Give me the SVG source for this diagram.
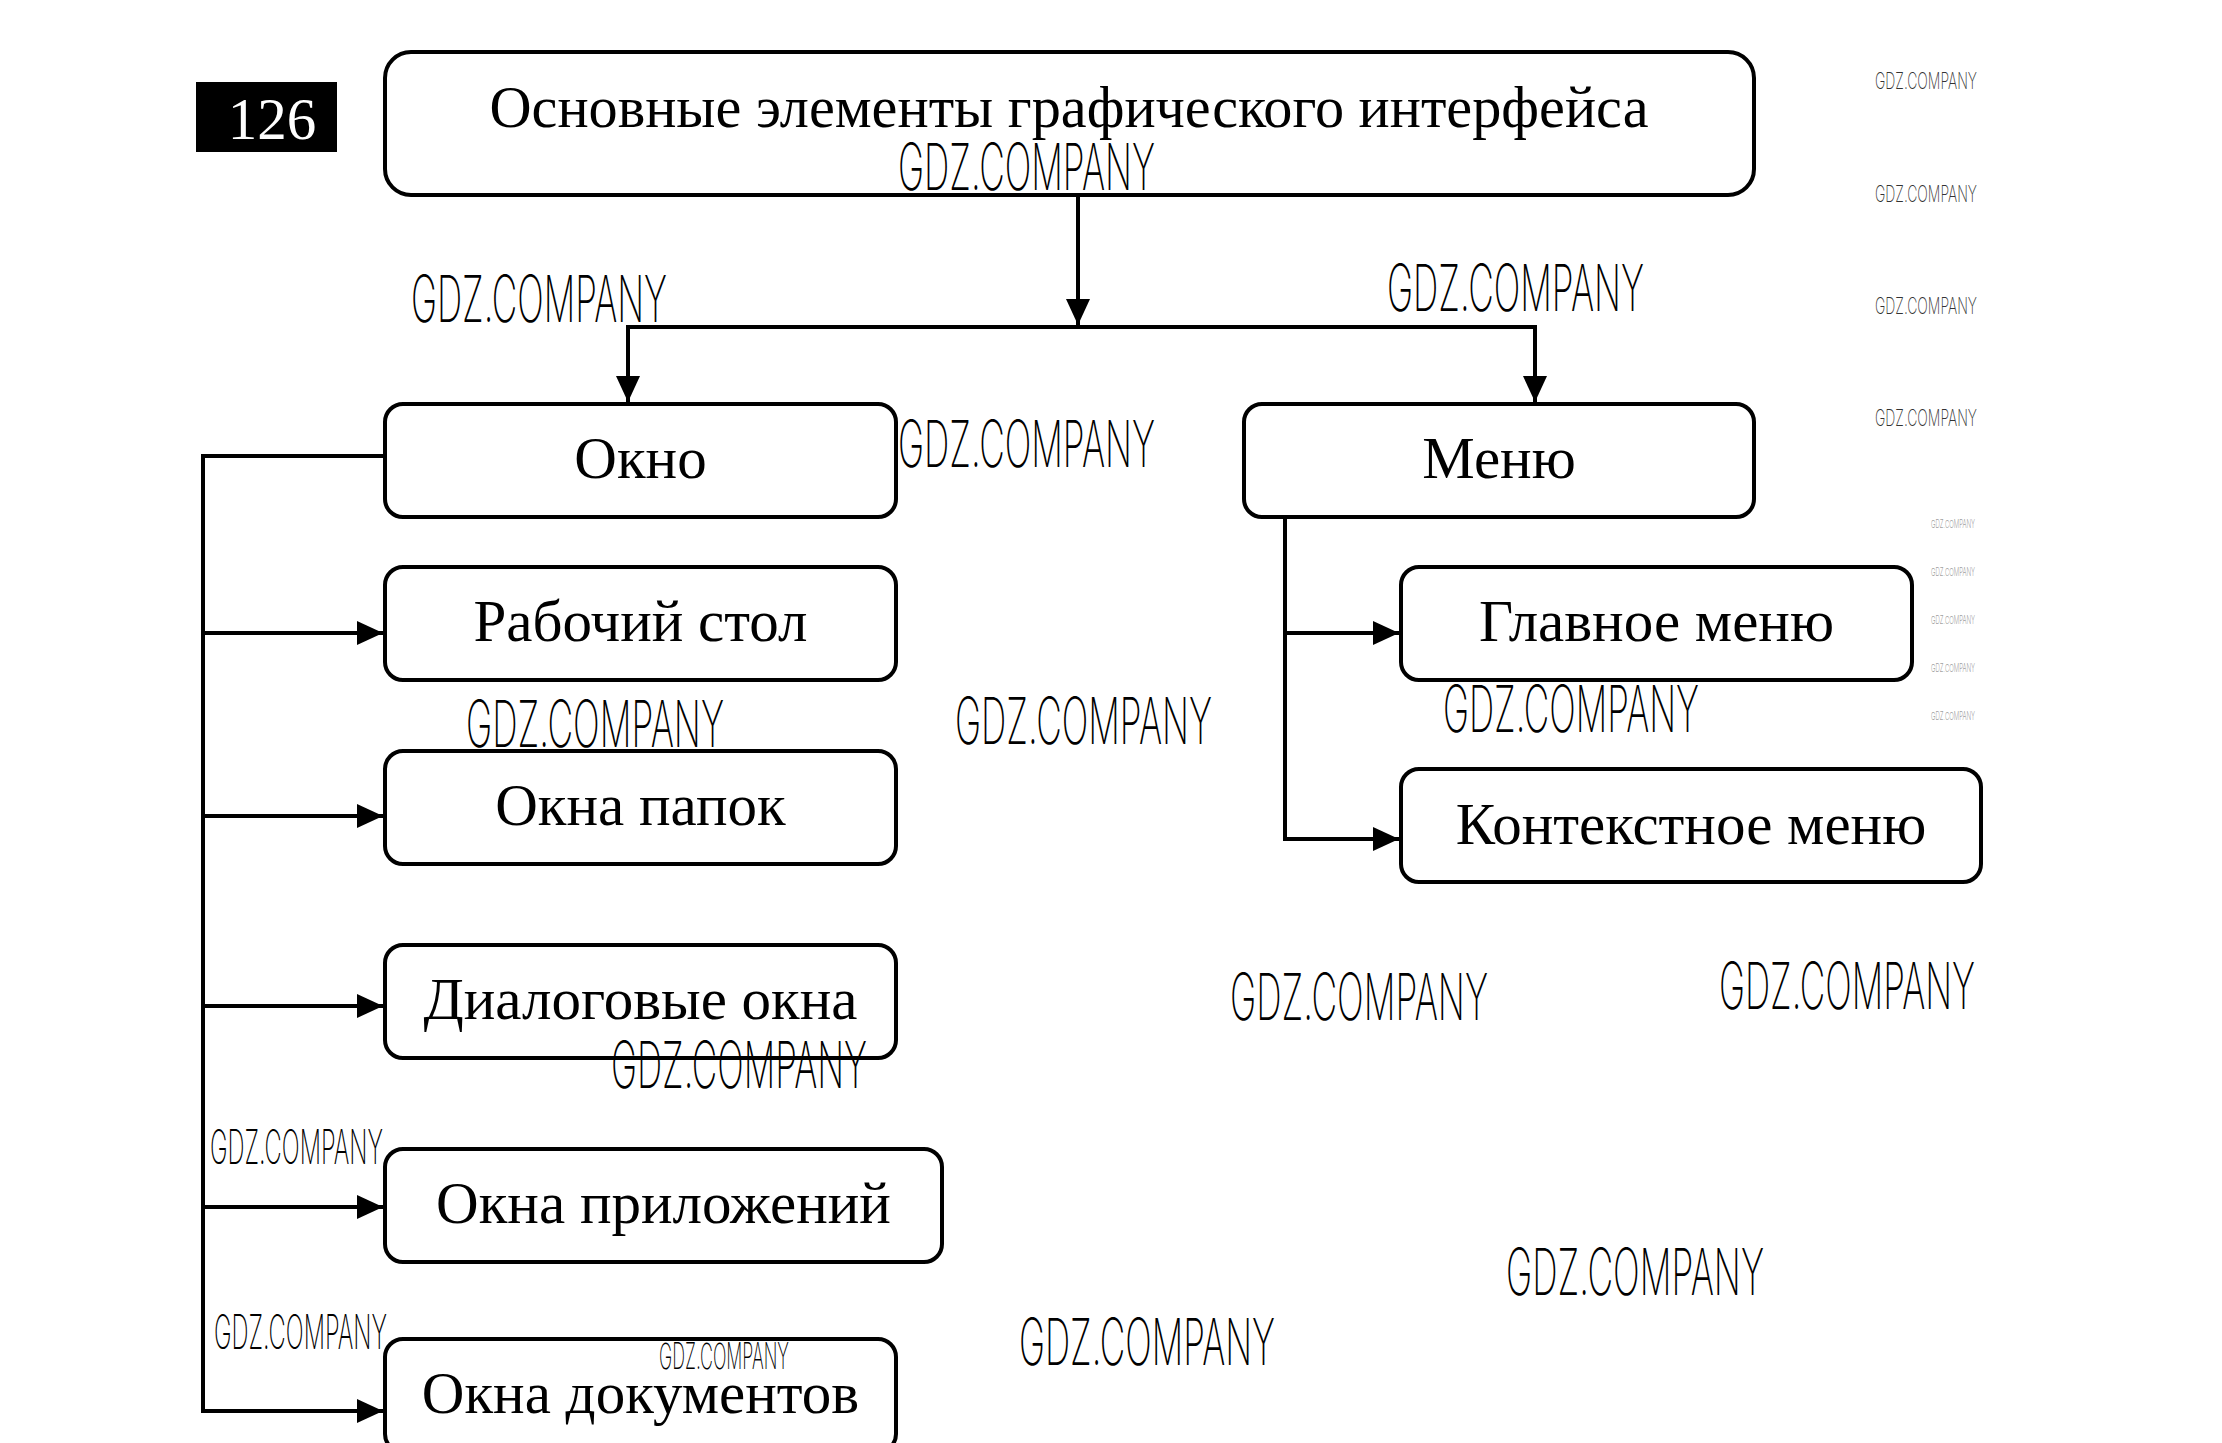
<svg xmlns="http://www.w3.org/2000/svg" width="2222" height="1443" viewBox="0 0 2222 1443">
<style>
.box{fill:#fff;stroke:#000;stroke-width:4}
.lbl{font-family:"Liberation Serif","Times New Roman",serif;font-size:59px;fill:#000;text-anchor:middle}
.con{fill:none;stroke:#000;stroke-width:4}
.wm{font-family:Inter,"Liberation Sans",sans-serif;font-weight:200;fill:#000}
.wl{font-size:65px}
.wmd{font-size:48px}
.ws{font-size:36px}
.wt{font-size:23px;fill:#333}
.wx{font-size:11px;fill:#777}
</style>
<defs>
<marker id="ah" markerUnits="userSpaceOnUse" markerWidth="28" markerHeight="26" refX="26" refY="12" orient="auto">
<path d="M0,0 L26,12 L0,24 Z" fill="#000"/>
</marker>
</defs>
<rect width="2222" height="1443" fill="#fff"/>

<g id="badge">
<rect x="196" y="82" width="141" height="70" fill="#000"/>
<text x="272" y="139" font-family="Liberation Serif,serif" font-size="59" fill="#fff" text-anchor="middle">126</text>
</g>

<g id="connectors">
<path class="con" d="M1078,195 V325" marker-end="url(#ah)"/>
<path class="con" d="M1078,327 H628 V402" marker-end="url(#ah)"/>
<path class="con" d="M1078,327 H1535 V402" marker-end="url(#ah)"/>
<path class="con" d="M385,456 H203 V1411 H383" marker-end="url(#ah)"/>
<path class="con" d="M203,633 H383" marker-end="url(#ah)"/>
<path class="con" d="M203,816 H383" marker-end="url(#ah)"/>
<path class="con" d="M203,1006 H383" marker-end="url(#ah)"/>
<path class="con" d="M203,1207 H383" marker-end="url(#ah)"/>
<path class="con" d="M1285,517 V839 H1399" marker-end="url(#ah)"/>
<path class="con" d="M1285,633 H1399" marker-end="url(#ah)"/>
</g>

<g id="main">
<rect class="box" x="385" y="52" width="1369" height="143" rx="26"/>
<text class="lbl" x="1069" y="127" font-size="56" textLength="1159" lengthAdjust="spacingAndGlyphs">Основные элементы графического интерфейса</text>
</g>
<g id="okno">
<rect class="box" x="385" y="404" width="511" height="113" rx="18"/>
<text class="lbl" x="640.5" y="478">Окно</text>
</g>
<g id="menu">
<rect class="box" x="1244" y="404" width="510" height="113" rx="18"/>
<text class="lbl" x="1499" y="478">Меню</text>
</g>
<g id="rabochiy-stol">
<rect class="box" x="385" y="567" width="511" height="113" rx="18"/>
<text class="lbl" x="640.5" y="641">Рабочий стол</text>
</g>
<g id="okna-papok">
<rect class="box" x="385" y="751" width="511" height="113" rx="18"/>
<text class="lbl" x="640.5" y="825">Окна папок</text>
</g>
<g id="dialogovye-okna">
<rect class="box" x="385" y="945" width="511" height="113" rx="18"/>
<text class="lbl" x="640.5" y="1019">Диалоговые окна</text>
</g>
<g id="okna-prilozheniy">
<rect class="box" x="385" y="1149" width="557" height="113" rx="18"/>
<text class="lbl" x="663.5" y="1223">Окна приложений</text>
</g>
<g id="okna-dokumentov">
<rect class="box" x="385" y="1339" width="511" height="113" rx="18"/>
<text class="lbl" x="640.5" y="1413">Окна документов</text>
</g>
<g id="glavnoe-menu">
<rect class="box" x="1401" y="567" width="511" height="113" rx="18"/>
<text class="lbl" x="1656.5" y="641">Главное меню</text>
</g>
<g id="kontekstnoe-menu">
<rect class="box" x="1401" y="769" width="580" height="113" rx="18"/>
<text class="lbl" x="1691" y="844">Контекстное меню</text>
</g>

<g id="watermarks">
<text class="wm wl" x="898" y="190" textLength="257" lengthAdjust="spacingAndGlyphs">GDZ.COMPANY</text>
<text class="wm wl" x="411" y="322" textLength="256" lengthAdjust="spacingAndGlyphs">GDZ.COMPANY</text>
<text class="wm wl" x="1387" y="311" textLength="257" lengthAdjust="spacingAndGlyphs">GDZ.COMPANY</text>
<text class="wm wl" x="898" y="467" textLength="257" lengthAdjust="spacingAndGlyphs">GDZ.COMPANY</text>
<text class="wm wl" x="466" y="747" textLength="258" lengthAdjust="spacingAndGlyphs">GDZ.COMPANY</text>
<text class="wm wl" x="955" y="744" textLength="257" lengthAdjust="spacingAndGlyphs">GDZ.COMPANY</text>
<text class="wm wl" x="1443" y="732" textLength="256" lengthAdjust="spacingAndGlyphs">GDZ.COMPANY</text>
<text class="wm wl" x="1230" y="1020" textLength="258" lengthAdjust="spacingAndGlyphs">GDZ.COMPANY</text>
<text class="wm wl" x="1719" y="1009" textLength="256" lengthAdjust="spacingAndGlyphs">GDZ.COMPANY</text>
<text class="wm wl" x="611" y="1088" textLength="256" lengthAdjust="spacingAndGlyphs">GDZ.COMPANY</text>
<text class="wm wl" x="1506" y="1295" textLength="258" lengthAdjust="spacingAndGlyphs">GDZ.COMPANY</text>
<text class="wm wl" x="1019" y="1365" textLength="256" lengthAdjust="spacingAndGlyphs">GDZ.COMPANY</text>
<text class="wm wmd" x="210" y="1164" textLength="173" lengthAdjust="spacingAndGlyphs">GDZ.COMPANY</text>
<text class="wm wmd" x="214" y="1349" textLength="173" lengthAdjust="spacingAndGlyphs">GDZ.COMPANY</text>
<text class="wm ws" x="659" y="1369" textLength="130" lengthAdjust="spacingAndGlyphs">GDZ.COMPANY</text>
<text class="wm wt" x="1875" y="89" textLength="102" lengthAdjust="spacingAndGlyphs">GDZ.COMPANY</text>
<text class="wm wt" x="1875" y="202" textLength="102" lengthAdjust="spacingAndGlyphs">GDZ.COMPANY</text>
<text class="wm wt" x="1875" y="314" textLength="102" lengthAdjust="spacingAndGlyphs">GDZ.COMPANY</text>
<text class="wm wt" x="1875" y="426" textLength="102" lengthAdjust="spacingAndGlyphs">GDZ.COMPANY</text>
<text class="wm wx" x="1931" y="528" textLength="44" lengthAdjust="spacingAndGlyphs">GDZ.COMPANY</text>
<text class="wm wx" x="1931" y="576" textLength="44" lengthAdjust="spacingAndGlyphs">GDZ.COMPANY</text>
<text class="wm wx" x="1931" y="624" textLength="44" lengthAdjust="spacingAndGlyphs">GDZ.COMPANY</text>
<text class="wm wx" x="1931" y="672" textLength="44" lengthAdjust="spacingAndGlyphs">GDZ.COMPANY</text>
<text class="wm wx" x="1931" y="720" textLength="44" lengthAdjust="spacingAndGlyphs">GDZ.COMPANY</text>
</g>
</svg>
